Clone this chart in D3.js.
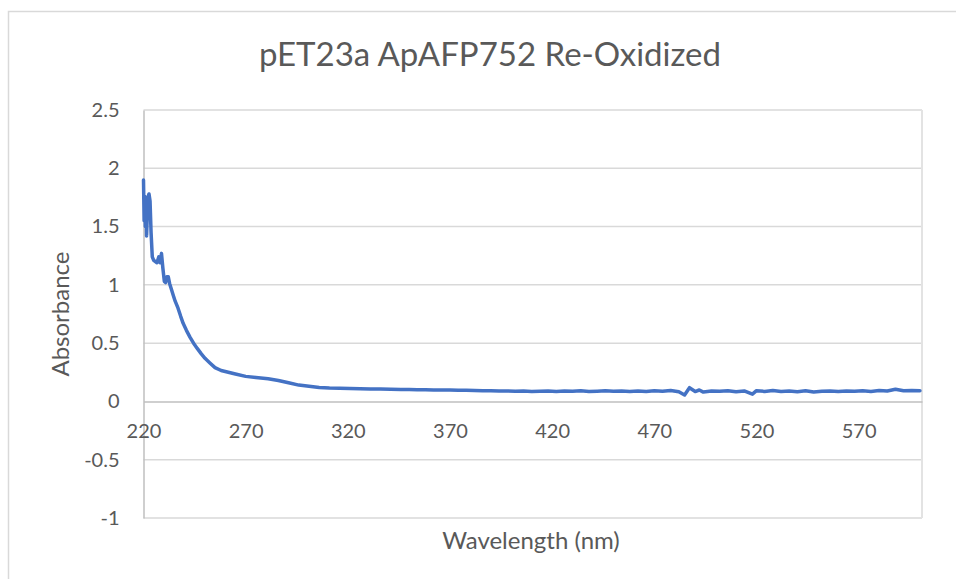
<!DOCTYPE html>
<html>
<head>
<meta charset="utf-8">
<script src="https://cdn.jsdelivr.net/npm/d3@7"></script>
<style>
  body { margin: 0; background: #fff; }
  svg { display: block; font-family: Lato, "Open Sans", sans-serif; }
</style>
</head>
<body>
<div id="chart"></div>
<script>
// chart text
const chartTitle = "pET23a ApAFP752 Re-Oxidized";
const xTitle = "Wavelength (nm)";
const yTitle = "Absorbance";

// axis ticks
const xTicks = [220, 270, 320, 370, 420, 470, 520, 570];
const yTicks = [-1, -0.5, 0, 0.5, 1, 1.5, 2, 2.5];

// spectrum
const wavelength = [
  220, 220.3, 220.6, 220.9, 221.2, 221.5, 221.9, 222.3, 222.7, 223.2,
  223.7, 224.3, 225, 225.8, 226.6, 227.5, 228.2, 228.8, 229.5, 230.2,
  230.8, 231.5, 232.1, 232.8, 233.5, 234.4, 235.5, 236.9, 238.2, 239.4,
  241, 242.8, 244.5, 246.3, 248.2, 250.1, 252.5, 255, 258, 261.5,
  265, 270, 275, 281, 286, 291, 296, 301, 306, 311,
  316, 321, 326, 331, 336, 341, 346, 350, 354, 358,
  362, 366, 370, 374, 378, 382, 386, 390, 394, 398,
  402, 406, 410, 414, 418, 422, 426, 430, 434, 438,
  442, 446, 450, 454, 458, 462, 466, 470, 474, 478,
  482, 484.8, 487.2, 490, 492, 494, 498, 502, 506, 510,
  514, 518, 520, 524, 528, 532, 536, 540, 544, 548,
  552, 556, 560, 564, 568, 572, 576, 580, 584, 588,
  592, 596, 600
];
const absorbance = [
  1.90, 1.55, 1.76, 1.50, 1.74, 1.42, 1.62, 1.76, 1.78, 1.72,
  1.45, 1.24, 1.21, 1.20, 1.19, 1.24, 1.19, 1.27, 1.14, 1.03,
  1.02, 1.07, 1.07, 1.01, 0.97, 0.92, 0.86, 0.80, 0.73, 0.67,
  0.61, 0.55, 0.50, 0.455, 0.41, 0.37, 0.33, 0.29, 0.265, 0.25,
  0.235, 0.215, 0.205, 0.195, 0.18, 0.16, 0.14, 0.13, 0.12, 0.115,
  0.112, 0.11, 0.108, 0.107, 0.106, 0.105, 0.103, 0.102, 0.100, 0.101,
  0.098, 0.097, 0.099, 0.095, 0.096, 0.093, 0.091, 0.092, 0.089, 0.090,
  0.087, 0.089, 0.086, 0.088, 0.090, 0.086, 0.089, 0.087, 0.091, 0.085,
  0.088, 0.092, 0.087, 0.089, 0.086, 0.090, 0.085, 0.091, 0.087, 0.094,
  0.083, 0.055, 0.118, 0.085, 0.098, 0.080, 0.090, 0.087, 0.092, 0.084,
  0.090, 0.062, 0.092, 0.086, 0.093, 0.085, 0.089, 0.084, 0.092, 0.081,
  0.088, 0.090, 0.085, 0.089, 0.087, 0.091, 0.086, 0.093, 0.090, 0.105,
  0.091, 0.093, 0.092
];

const width = 956, height = 579;
const plot = { left: 143.5, right: 922, top: 110, bottom: 518 };

const svg = d3.select("#chart").append("svg")
  .attr("width", width)
  .attr("height", height);

// outer chart border (runs off the picture on the right and bottom)
svg.append("rect")
  .attr("x", 8.5).attr("y", 11.5)
  .attr("width", 1000).attr("height", 1000)
  .attr("fill", "none")
  .attr("stroke", "#d9d9d9")
  .attr("stroke-width", 1.5);

const x = d3.scaleLinear().domain([220, 601]).range([plot.left, plot.right]);
const y = d3.scaleLinear().domain([-1, 2.5]).range([plot.bottom, plot.top]);

// horizontal gridlines
svg.append("g")
  .selectAll("line")
  .data(yTicks.filter(d => d !== 0))
  .join("line")
  .attr("x1", plot.left).attr("x2", plot.right)
  .attr("y1", d => y(d)).attr("y2", d => y(d))
  .attr("stroke", "#d9d9d9")
  .attr("stroke-width", 1.5);

// right edge line
svg.append("line")
  .attr("x1", plot.right).attr("x2", plot.right)
  .attr("y1", plot.top).attr("y2", plot.bottom)
  .attr("stroke", "#e3e3e3")
  .attr("stroke-width", 2);

// y axis
const yAxis = svg.append("g")
  .attr("transform", `translate(${plot.left},0)`)
  .call(d3.axisLeft(y).tickValues(yTicks).tickSize(0).tickPadding(24)
    .tickFormat(d => String(d)));
yAxis.select(".domain").attr("stroke", "#bfbfbf").attr("stroke-width", 1.5);
yAxis.selectAll("text")
  .attr("fill", "#595959")
  .style("font-size", "20px")
  .style("font-family", "Lato, sans-serif");

// x axis crossing at zero
const xAxis = svg.append("g")
  .attr("transform", `translate(0,${y(0)})`)
  .call(d3.axisBottom(x).tickValues(xTicks).tickSize(0).tickPadding(22)
    .tickFormat(d3.format("d")));
xAxis.select(".domain").attr("stroke", "#bfbfbf").attr("stroke-width", 1.5);
xAxis.selectAll("text")
  .attr("fill", "#595959")
  .style("font-size", "20px")
  .style("font-family", "Lato, sans-serif");

// spectrum line
const points = wavelength.map((w, i) => [w, absorbance[i]]);
svg.append("path")
  .datum(points)
  .attr("fill", "none")
  .attr("stroke", "#4472c4")
  .attr("stroke-width", 3.5)
  .attr("stroke-linejoin", "round")
  .attr("stroke-linecap", "round")
  .attr("d", d3.line().x(d => x(d[0])).y(d => y(d[1])));

// titles
svg.append("text")
  .attr("x", 490).attr("y", 66)
  .attr("text-anchor", "middle")
  .attr("fill", "#595959")
  .style("font-size", "33px")
  .text(chartTitle);

svg.append("text")
  .attr("x", 531).attr("y", 549)
  .attr("text-anchor", "middle")
  .attr("fill", "#595959")
  .style("font-size", "24px")
  .text(xTitle);

svg.append("text")
  .attr("transform", `translate(69,${(plot.top + plot.bottom) / 2}) rotate(-90)`)
  .attr("text-anchor", "middle")
  .attr("fill", "#595959")
  .style("font-size", "24px")
  .text(yTitle);
</script>
</body>
</html>
